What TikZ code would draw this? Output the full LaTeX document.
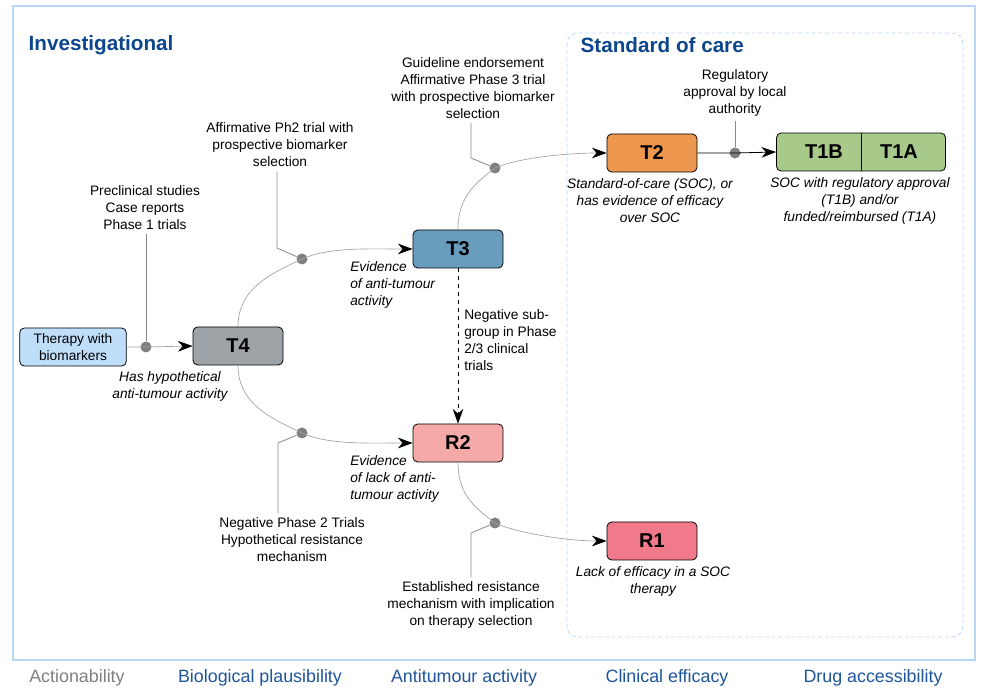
\documentclass[tikz,border=0pt]{standalone}
\usepackage{fontspec}
\setmainfont{Liberation Sans}
\usetikzlibrary{arrows.meta}

\definecolor{framecol}{RGB}{185,215,245}
\definecolor{titleblue}{RGB}{12,70,140}
\definecolor{axisblue}{RGB}{30,85,155}
\definecolor{axisgrey}{RGB}{128,128,128}
\definecolor{dotgrey}{RGB}{128,128,128}
\definecolor{linegrey}{RGB}{160,160,160}
\definecolor{leadgrey}{RGB}{135,135,135}
\definecolor{fillbio}{RGB}{190,222,250}
\definecolor{fillfour}{RGB}{158,163,168}
\definecolor{fillthree}{RGB}{104,157,190}
\definecolor{filltwo}{RGB}{237,152,78}
\definecolor{fillone}{RGB}{167,201,137}
\definecolor{fillrtwo}{RGB}{245,170,168}
\definecolor{fillrone}{RGB}{240,122,138}

\begin{document}
\begin{tikzpicture}[x=0.75pt,y=-0.75pt,
    every node/.style={font=\fontsize{10.3}{12.75}\selectfont},
    stage/.style={draw, line width=0.6pt, rounded corners=3.5pt, minimum width=67.5pt,
        minimum height=28.5pt, inner sep=0pt, font=\fontsize{15}{18}\selectfont\bfseries},
    hub/.style={circle, fill=dotgrey, inner sep=0pt, minimum size=8.25pt},
    link/.style={draw=linegrey, line width=0.5pt},
    lead/.style={draw=leadgrey, line width=0.6pt},
    tip/.style={-{Stealth[black,length=11pt,width=8pt,inset=3.5pt]}},
    note/.style={align=center, inner sep=0pt},
    remark/.style={inner sep=0pt, font=\fontsize{10.3}{12.75}\selectfont\itshape},
    axis/.style={font=\fontsize{13.4}{16}\selectfont, text=axisblue}]
    \useasboundingbox (0,0) rectangle (990,698);

    % frames
    \draw[framecol, line width=0.8pt] (13,6) rectangle (975,660);
    \draw[framecol, line width=0.6pt, dash pattern=on 3pt off 2pt, rounded corners=8pt] (567,33) rectangle (963,637);
    \node[anchor=west, text=titleblue, font=\fontsize{15.5}{18}\selectfont\bfseries] (inv) at (24,45) {Investigational};
    \node[anchor=west, text=titleblue, font=\fontsize{15.5}{18}\selectfont\bfseries] (soc) at (576,45) {Standard of care};

    % stages
    \node[draw, line width=0.6pt, rounded corners=3.5pt, fill=fillbio, minimum width=80pt,
        minimum height=28.5pt, align=center, inner sep=0pt] (bio) at (73,347) {Therapy with\\biomarkers};
    \node[stage, fill=fillfour] (t4) at (238,346) {T4};
    \node[stage, fill=fillthree] (t3) at (458,249) {T3};
    \node[stage, fill=fillrtwo] (r2) at (458,443) {R2};
    \node[stage, fill=filltwo] (t2) at (652,153) {T2};
    \node[stage, fill=fillone, minimum width=126.75pt] (t1) at (861,152) {};
    \draw[line width=0.6pt] (t1.north) -- (t1.south);
    \node[font=\fontsize{15}{18}\selectfont\bfseries] (t1b) at (824,152) {T1B};
    \node[font=\fontsize{15}{18}\selectfont\bfseries] (t1a) at (899,152) {T1A};
    \node[stage, fill=fillrone] (r1) at (652,541) {R1};

    % hubs
    \node[hub] (d0) at (146,347) {};
    \node[hub] (d1) at (302,259) {};
    \node[hub] (d2) at (302,433) {};
    \node[hub] (d3) at (495,168) {};
    \node[hub] (d4) at (495,523) {};
    \node[hub] (d5) at (735,153) {};

    % connectors
    \draw[link, tip] (bio.east) -- (d0.center) -- (t4.west);
    \draw[link, tip] (t4.north) .. controls +(0,-40) and +(-27,13) .. (d1.center)
        .. controls +(27,-12) and +(-45,0) .. (t3.west);
    \draw[link, tip] (t4.south) .. controls +(0,40) and +(-27,-13) .. (d2.center)
        .. controls +(27,12) and +(-45,0) .. (r2.west);
    \draw[link, tip] (t3.north) .. controls +(0,-34) and +(-18,14) .. (d3.center)
        .. controls +(22,-10) and +(-40,0) .. (t2.west);
    \draw[link, tip] (r2.south) .. controls +(0,34) and +(-18,-14) .. (d4.center)
        .. controls +(22,10) and +(-40,0) .. (r1.west);
    \draw[line width=0.6pt, tip] (t2.east) -- (d5.center) -- (t1.west);
    \draw[line width=0.6pt, dashed, tip] (t3.south) -- (r2.north);

    % evidence
    \node[note] (pre) at (145,208) {Preclinical studies\\Case reports\\Phase 1 trials};
    \node[note] (ph2) at (280,145) {Affirmative Ph2 trial with\\prospective biomarker\\selection};
    \node[note] (gl) at (473,88) {Guideline endorsement\\Affirmative Phase 3 trial\\with prospective biomarker\\selection};
    \node[note] (reg) at (735,93) {Regulatory\\approval by local\\authority};
    \node[note] (neg) at (292,540) {Negative Phase 2 Trials\\Hypothetical resistance\\mechanism};
    \node[note] (est) at (471,605) {Established resistance\\mechanism with implication\\on therapy selection};
    \node[note, align=left, anchor=west] (sub) at (464,340) {Negative sub-\\group in Phase\\2/3 clinical\\trials};

    \coordinate (k1) at (277,248);
    \coordinate (k2) at (278,443);
    \coordinate (k3) at (471,158);
    \coordinate (k4) at (471,533);
    \draw[lead] ([yshift=-3pt]pre.south -| d0) -- (d0);
    \draw[lead] ([yshift=-3pt]ph2.south -| k1) -- (k1) -- (d1);
    \draw[lead] ([yshift=-3pt]gl.south -| k3) -- (k3) -- (d3);
    \draw[lead] ([yshift=-3pt]reg.south -| d5) -- (d5);
    \draw[lead] ([yshift=3pt]neg.north -| k2) -- (k2) -- (d2);
    \draw[lead] ([yshift=3pt]est.north -| k4) -- (k4) -- (d4);

    % outcomes
    \node[remark, align=center] (c4) at (170,386) {Has hypothetical\\anti-tumour activity};
    \node[remark, align=left, anchor=west] (c3) at (350,285) {Evidence\\of anti-tumour\\activity};
    \node[remark, align=left, anchor=west] (cr2) at (350,479) {Evidence\\of lack of anti-\\tumour activity};
    \node[remark, align=center] (c2) at (650,201) {Standard-of-care (SOC), or\\has evidence of efficacy\\over SOC};
    \node[remark, align=center] (c1) at (860,201) {SOC with regulatory approval\\(T1B) and/or\\funded/reimbursed (T1A)};
    \node[remark, align=center] (cr1) at (653,581) {Lack of efficacy in a SOC\\therapy};

    % axis
    \node[axis, text=axisgrey] (ax1) at (77,678) {Actionability};
    \node[axis] (ax2) at (260,678) {Biological plausibility};
    \node[axis] (ax3) at (464,678) {Antitumour activity};
    \node[axis] (ax4) at (667,678) {Clinical efficacy};
    \node[axis] (ax5) at (873,678) {Drug accessibility};
\end{tikzpicture}
\end{document}
